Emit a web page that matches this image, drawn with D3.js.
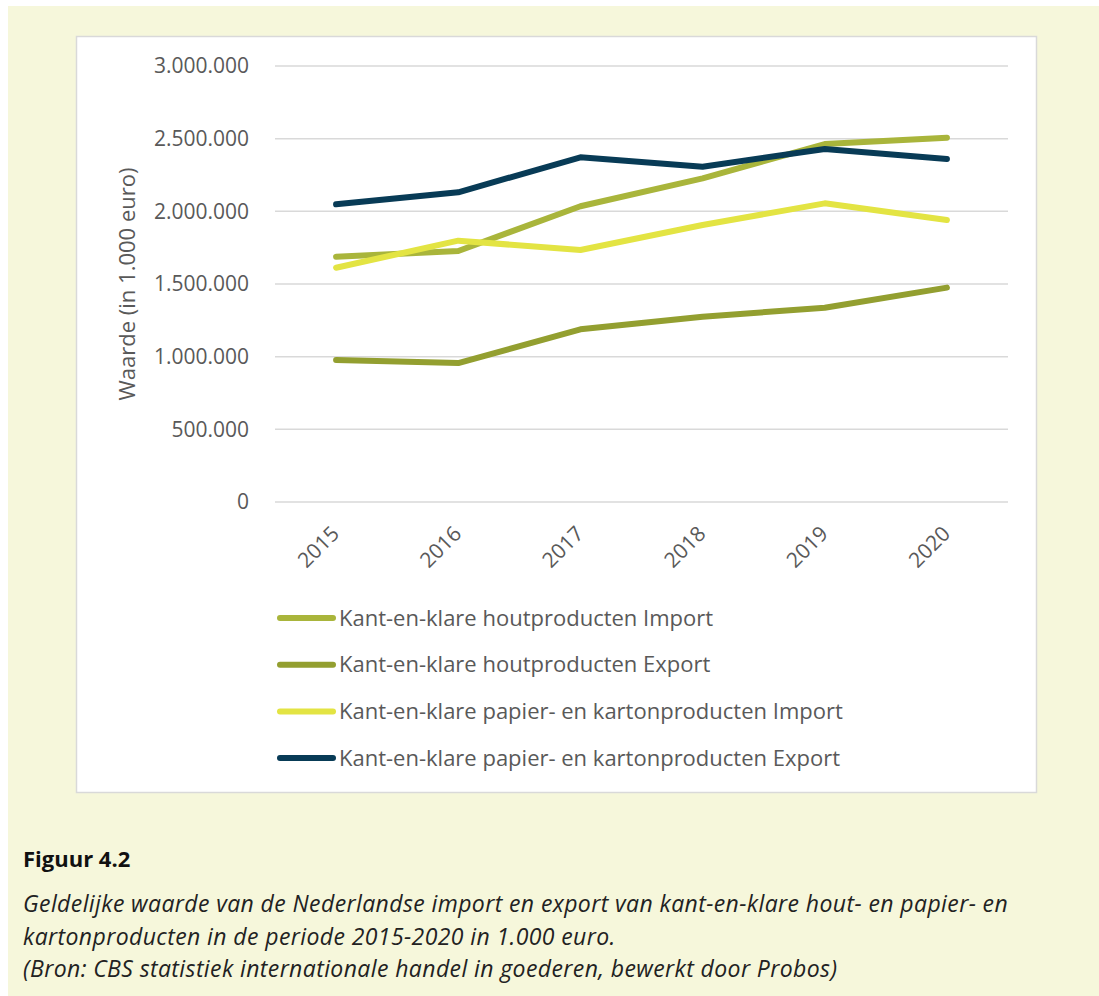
<!DOCTYPE html>
<html lang="nl">
<head>
    <meta charset="UTF-8">
    <title>Figuur 4.2</title>
    <script src="https://d3js.org/d3.v7.min.js"></script>
    <style>
        body { margin: 0; background: #fff; }
        svg { display: block; }
    </style>
</head>
<body>
    <script>
        // DATA (waarde in 1.000 euro)
        var years = ["2015", "2016", "2017", "2018", "2019", "2020"];
        var houtImport = [1688000, 1727000, 2035000, 2227000, 2463000, 2507000];
        var houtExport = [977000, 956000, 1188000, 1275000, 1337000, 1475000];
        var papierImport = [1612000, 1798000, 1734000, 1906000, 2055000, 1940000];
        var papierExport = [2048000, 2131000, 2372000, 2307000, 2429000, 2360000];
        var seriesNames = [
            "Kant-en-klare houtproducten Import",
            "Kant-en-klare houtproducten Export",
            "Kant-en-klare papier- en kartonproducten Import",
            "Kant-en-klare papier- en kartonproducten Export"
        ];
        var seriesColors = ["#a9b53b", "#939f30", "#e3e443", "#083b56"];
        var yTicks = [0, 500000, 1000000, 1500000, 2000000, 2500000, 3000000];

        var series = [houtImport, houtExport, papierImport, papierExport].map(function(vals, i) {
            return {name: seriesNames[i], color: seriesColors[i], values: vals};
        });

        var width = 1099, height = 996;
        var font = "'Open Sans', sans-serif";

        var svg = d3.select("body").append("svg")
            .attr("width", width)
            .attr("height", height);

        // beige panel
        svg.append("rect")
            .attr("x", 8).attr("y", 6)
            .attr("width", width - 8).attr("height", height - 6)
            .attr("fill", "#f6f7db");

        // white chart box
        svg.append("rect")
            .attr("x", 76.5).attr("y", 36.5)
            .attr("width", 960).attr("height", 756)
            .attr("fill", "#fff")
            .attr("stroke", "#d9d9d9")
            .attr("stroke-width", 1.5);

        var x = d3.scalePoint().domain(years).range([275, 1008]).padding(0.5);
        var y = d3.scaleLinear().domain([0, 3000000]).range([502, 66]);

        var fmt = function(d) { return d3.format(",")(d).replace(/,/g, "."); };

        // gridlines
        svg.append("g").selectAll("line")
            .data(yTicks)
            .enter().append("line")
            .attr("x1", 275).attr("x2", 1008)
            .attr("y1", function(d) { return y(d); })
            .attr("y2", function(d) { return y(d); })
            .attr("stroke", "#d9d9d9")
            .attr("stroke-width", 1.5);

        // y axis labels
        var yAxis = svg.append("g")
            .attr("transform", "translate(275,0)")
            .call(d3.axisLeft(y).tickValues(yTicks).tickFormat(fmt).tickSize(0).tickPadding(26));
        yAxis.select(".domain").remove();
        yAxis.selectAll("text")
            .attr("font-family", font)
            .attr("font-size", "21px")
            .attr("fill", "#595959");

        // x axis labels, rotated
        var xAxis = svg.append("g")
            .attr("transform", "translate(0,502)")
            .call(d3.axisBottom(x).tickSize(0));
        xAxis.select(".domain").remove();
        xAxis.selectAll("text")
            .attr("font-family", font)
            .attr("font-size", "21px")
            .attr("fill", "#595959")
            .attr("text-anchor", "end")
            .attr("dy", 0)
            .attr("y", 0)
            .attr("transform", "translate(4,33) rotate(-45)");

        // axis title
        svg.append("text")
            .attr("transform", "translate(135,284) rotate(-90)")
            .attr("text-anchor", "middle")
            .attr("font-family", font)
            .attr("font-size", "22px")
            .attr("fill", "#595959")
            .text("Waarde (in 1.000 euro)");

        // lines
        var line = d3.line()
            .x(function(d, i) { return x(years[i]); })
            .y(function(d) { return y(d); });

        svg.append("g").selectAll("path")
            .data(series)
            .enter().append("path")
            .attr("d", function(d) { return line(d.values); })
            .attr("fill", "none")
            .attr("stroke", function(d) { return d.color; })
            .attr("stroke-width", 6)
            .attr("stroke-linecap", "round")
            .attr("stroke-linejoin", "round");

        // legend
        var legend = svg.append("g").selectAll("g")
            .data(series)
            .enter().append("g")
            .attr("transform", function(d, i) { return "translate(278," + (618 + i * 46.7) + ")"; });
        legend.append("line")
            .attr("x1", 2).attr("x2", 55)
            .attr("stroke", function(d) { return d.color; })
            .attr("stroke-width", 6)
            .attr("stroke-linecap", "round");
        legend.append("text")
            .attr("x", 61)
            .attr("dy", "0.35em")
            .attr("font-family", font)
            .attr("font-size", "22px")
            .attr("fill", "#595959")
            .text(function(d) { return d.name; });

        // caption
        svg.append("text")
            .attr("x", 23).attr("y", 867)
            .attr("font-family", font)
            .attr("font-size", "22px")
            .attr("font-weight", "bold")
            .attr("fill", "#111")
            .text("Figuur 4.2");

        var captionLines = [
            "Geldelijke waarde van de Nederlandse import en export van kant-en-klare hout- en papier- en",
            "kartonproducten in de periode 2015-2020 in 1.000 euro.",
            "(Bron: CBS statistiek internationale handel in goederen, bewerkt door Probos)"
        ];
        svg.append("g").selectAll("text")
            .data(captionLines)
            .enter().append("text")
            .attr("x", 23)
            .attr("y", function(d, i) { return 912 + i * 32.5; })
            .attr("font-family", font)
            .attr("font-size", "23px")
            .attr("letter-spacing", "0.4px")
            .attr("font-style", "italic")
            .attr("fill", "#222")
            .text(function(d) { return d; });
    </script>
</body>
</html>
